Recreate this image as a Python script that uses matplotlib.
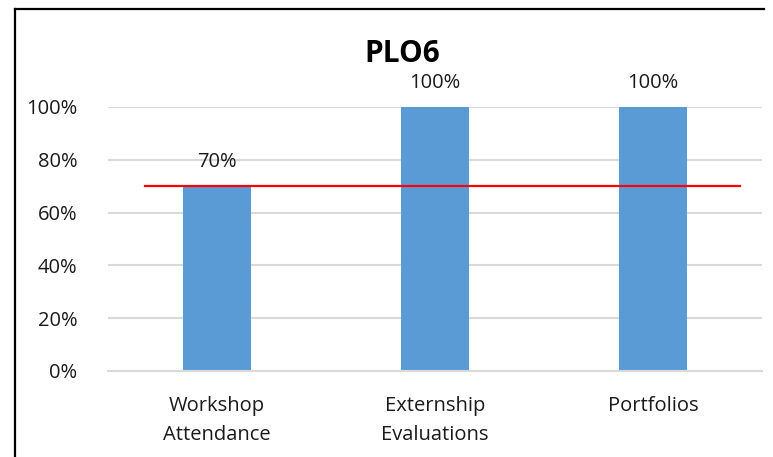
import matplotlib
matplotlib.use("Agg")
import matplotlib.pyplot as plt
from matplotlib.lines import Line2D
from matplotlib.ticker import PercentFormatter

categories = ["Workshop\nAttendance", "Externship\nEvaluations", "Portfolios"]
values = [0.70, 1.00, 1.00]
value_labels = ["70%", "100%", "100%"]
target = 0.70
yticks = [0.0, 0.2, 0.4, 0.6, 0.8, 1.0]

W, H = 773, 457
fig = plt.figure(figsize=(W / 100, H / 100), dpi=100)
plt.rcParams['font.family'] = ['Open Sans', 'DejaVu Sans']
fs = 14.5

ax = fig.add_axes([108 / W, 1 - 371 / H, (762 - 108) / W, (371 - 107) / H])
x = list(range(len(categories)))
ax.bar(x, values, width=0.31, color="#5b9bd5", zorder=2)
ax.set_xlim(-0.5, len(categories) - 0.5)
ax.set_ylim(0, 1.0)
ax.set_yticks(yticks)
ax.yaxis.set_major_formatter(PercentFormatter(1.0, decimals=0))
ax.grid(axis="y", color="#d9d9d9", linewidth=1.5, zorder=0)
ax.set_axisbelow(True)
for s in ["top", "right", "left"]:
    ax.spines[s].set_visible(False)
ax.spines["bottom"].set_color("#d9d9d9")
ax.spines["bottom"].set_linewidth(1.5)
ax.set_xticks(x)
ax.set_xticklabels(categories, fontsize=fs, linespacing=1.6, color="#1a1a1a")
ax.tick_params(axis="x", length=0, pad=18)
ax.tick_params(axis="y", length=0, pad=22, labelsize=fs, labelcolor="#1a1a1a")

for xi, v, lab in zip(x, values, value_labels):
    ax.annotate(lab, (xi, v), xytext=(0, 17.5), textcoords="offset points",
                ha="center", va="center", fontsize=fs, color="#1a1a1a",
                annotation_clip=False)

ax.plot([-0.33, 2.40], [target, target], color="#ff0000", linewidth=1.6, zorder=3)

fig.text(402 / W, 1 - 54 / H, "PLO6", ha="center", va="center",
         fontsize=21.5, fontweight="bold", color="black")

fig.add_artist(Line2D([15 / W, 15 / W], [0, 1 - 9 / H], color="black", linewidth=1.6))
fig.add_artist(Line2D([15 / W, 764 / W], [1 - 9 / H, 1 - 9 / H], color="black", linewidth=1.6))

fig.savefig("out.png", dpi=100)
